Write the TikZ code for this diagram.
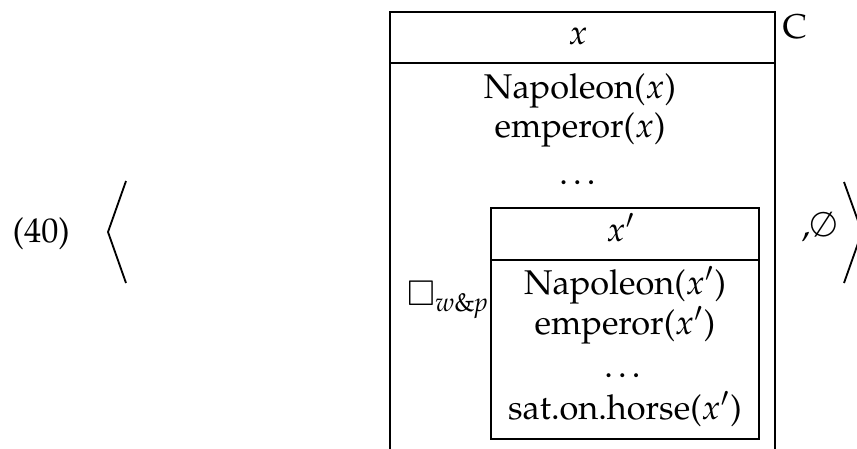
\documentclass[tikz,border=0pt]{standalone}
\usepackage[T1]{fontenc}
\usepackage{mathpazo}
\usepackage{amssymb}
\begin{document}
\begin{tikzpicture}[x=0.3pt,y=-0.3pt,
  boxline/.style={line width=0.4pt},
  angleline/.style={line width=0.55pt, line join=miter},
  txt/.style={inner sep=0pt, anchor=base, font=\fontsize{10.3}{12}\selectfont}]
\clip (0,0) rectangle (857,448);
% outer DRS box
\draw[boxline] (390,12) rectangle (775,470);
\draw[boxline] (390,63) -- (775,63);
\node[txt] (ox) at (578,44) {$x$};
\node[txt] (on) at (580,98) {Napoleon($x$)};
\node[txt] (oe) at (580,137) {emperor($x$)};
\node[txt] (od) at (580,184) {\dots};
% inner DRS box
\draw[boxline] (491,208) rectangle (759,439);
\draw[boxline] (491,260) -- (759,260);
\node[txt] (ix) at (621,241) {$x'$};
\node[txt] (in) at (625,294) {Napoleon($x'$)};
\node[txt] (ie) at (625,334) {emperor($x'$)};
\node[txt] (id) at (625,377) {\dots};
\node[txt] (is) at (625,419) {sat.on.horse($x'$)};
\node[txt, anchor=base east] (op) at (490,305) {$\square_{\mathit{w\&p}}$};
\node[txt, anchor=base west] (c) at (782,38) {C};
% surrounding tuple
\node[txt, anchor=base west] (num) at (12,242) {(40)};
\node[txt, anchor=base west] (emp) at (801,236) {,$\emptyset$};
\coordinate (la1) at (126,181);
\coordinate (la2) at (108,232);
\coordinate (la3) at (126,283);
\coordinate (ra1) at (844,182);
\coordinate (ra2) at (862,232);
\coordinate (ra3) at (844,283);
\draw[angleline] (la1) -- (la2) -- (la3);
\draw[angleline] (ra1) -- (ra2) -- (ra3);
\end{tikzpicture}
\end{document}
